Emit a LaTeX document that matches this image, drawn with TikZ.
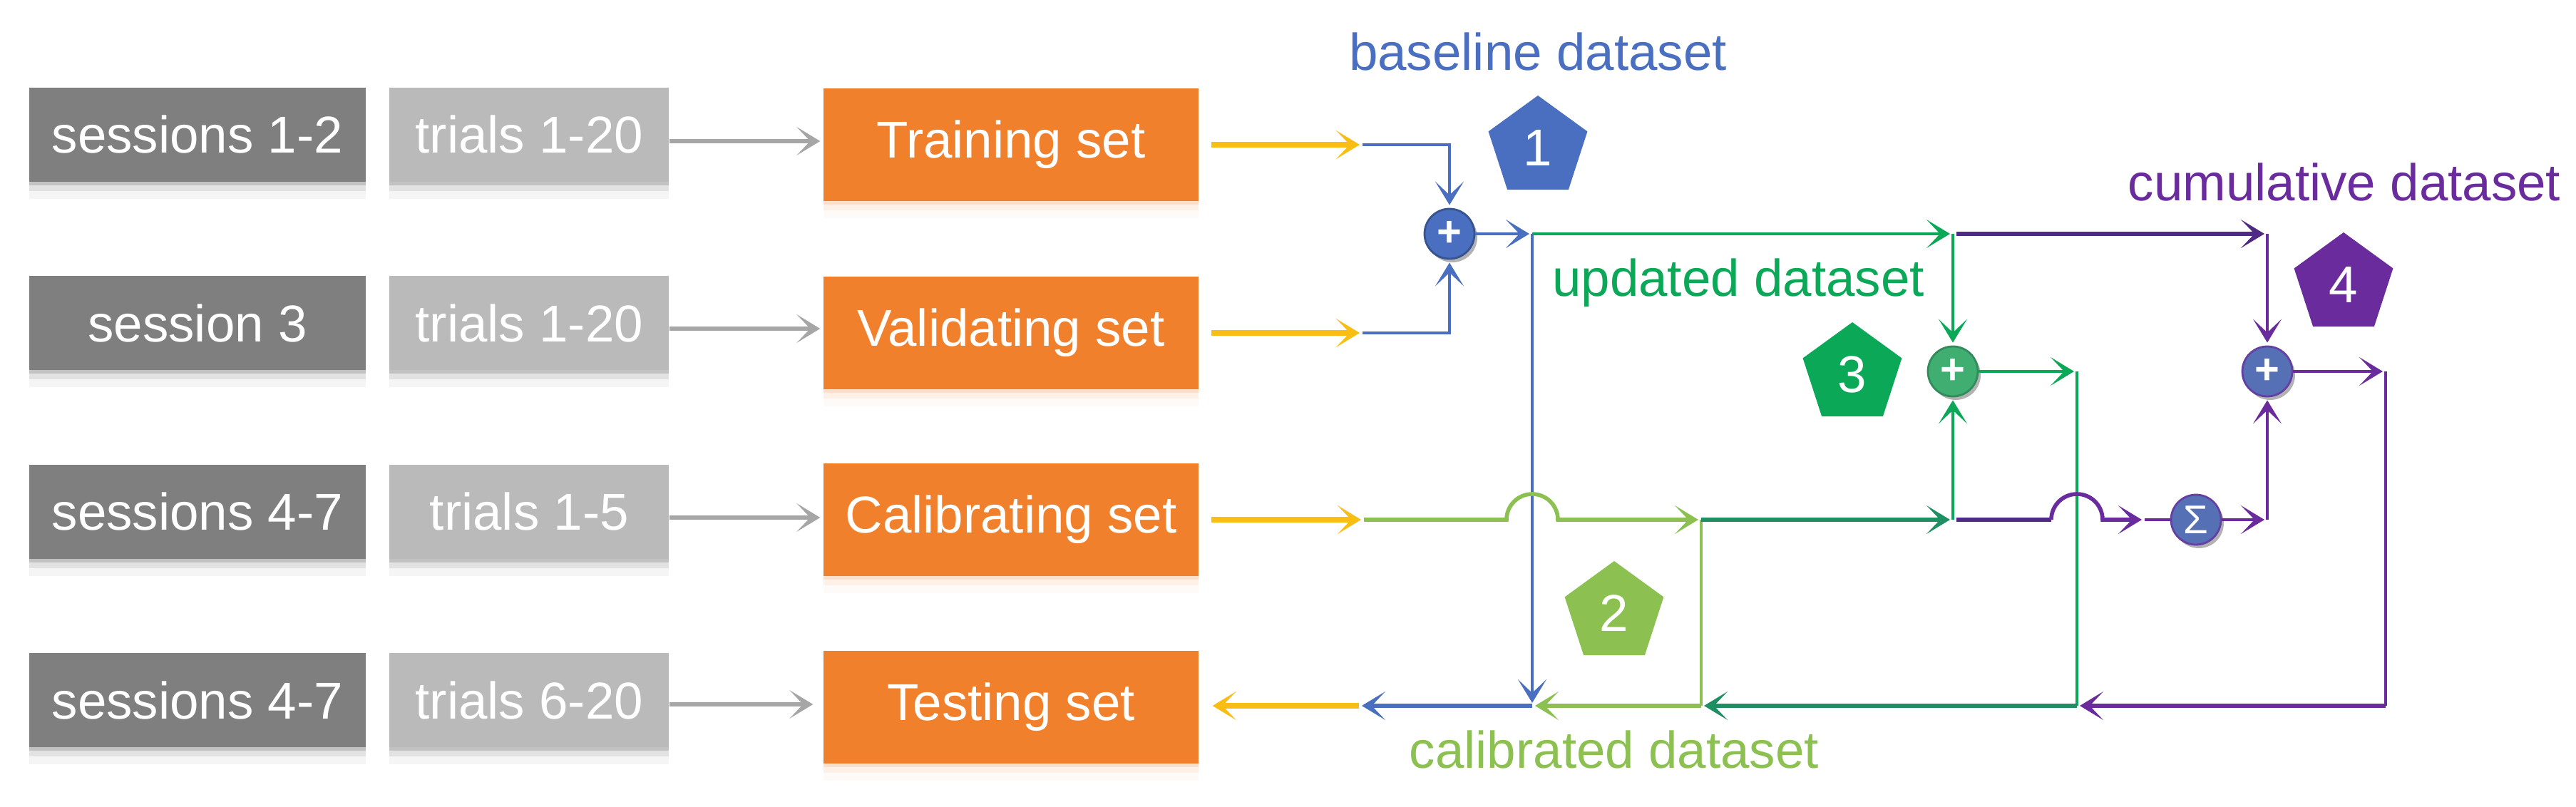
\documentclass[tikz,border=0pt]{standalone}
\usepackage{fontspec}
\setsansfont{Liberation Sans}
\usetikzlibrary{positioning, arrows.meta, calc, shapes.geometric, shadows}
\definecolor{bgSession}{HTML}{7F7F7F}
\definecolor{bgTrial}{HTML}{BABABA}
\definecolor{bgSet}{HTML}{F0802C}
\definecolor{arrowGray}{HTML}{A6A6A6}
\definecolor{arrowYellow}{HTML}{F9BE14}
\definecolor{lineBlue}{HTML}{4A6FC0}
\definecolor{lineLime}{HTML}{8CC152}
\definecolor{lineGreen}{HTML}{0BA858}
\definecolor{lineTeal}{HTML}{1E8F62}
\definecolor{linePurple}{HTML}{6A2C9C}
\definecolor{linePlum}{HTML}{4E2A84}
\definecolor{sumBlue}{HTML}{5570B5}
\definecolor{sumGreen}{HTML}{3FAE70}
\tikzset{
  softshadow/.style={
    drop shadow={shadow xshift=0pt, shadow yshift=-0.05cm, opacity=0.14, fill=#1},
    drop shadow={shadow xshift=0pt, shadow yshift=-0.13cm, opacity=0.08, fill=#1},
    drop shadow={shadow xshift=0pt, shadow yshift=-0.24cm, opacity=0.04, fill=#1},
  },
  basebox/.style={
    minimum height=1.32cm, inner sep=0pt, text=white, align=center,
    font=\sffamily\fontsize{20.7}{24}\selectfont,
  },
  sessionbox/.style={basebox, fill=bgSession, minimum width=4.72cm, softshadow=black},
  trialbox/.style={basebox, fill=bgTrial, minimum width=3.92cm, softshadow=black},
  setbox/.style={basebox, fill=bgSet, minimum width=5.26cm, minimum height=1.58cm, softshadow=bgSet},
  sumnode/.style={
    circle, inner sep=0pt, minimum size=0.70cm, text=white, line width=0.8pt,
    font=\sffamily\fontsize{17}{17}\selectfont\bfseries,
    drop shadow={shadow xshift=0.04cm, shadow yshift=-0.05cm, opacity=0.3, fill=black},
  },
  badge/.style={
    regular polygon, regular polygon sides=5, inner sep=0pt, minimum size=1.46cm,
    text=white, font=\sffamily\fontsize{20.7}{24}\selectfont,
  },
  datalabel/.style={font=\sffamily\fontsize{20.7}{24}\selectfont, inner sep=0pt},
  thinlink/.style={line width=1.1pt},
  thicklink/.style={line width=1.6pt},
  linkarrow/.style={
    -{Stealth[length=0.33cm, width=0.40cm, inset=0.19cm]}, shorten >=0.04cm,
  },
  grayarrow/.style={linkarrow, line width=1.9pt, color=arrowGray},
  yellowarrow/.style={linkarrow, line width=2.3pt, color=arrowYellow},
}

\begin{document}
\begin{tikzpicture}
  \useasboundingbox (0,0) rectangle (36.13,-11.32);

  % === Session and trial boxes (left columns) ===
  \node[sessionbox] (sessA) at (2.77,-1.89) {sessions 1-2};
  \node[trialbox, right=0.32cm of sessA] (trialA) {trials 1-20};
  \node[sessionbox, below=1.31cm of sessA] (sessB) {session 3};
  \node[trialbox, right=0.32cm of sessB] (trialB) {trials 1-20};
  \node[sessionbox, below=1.31cm of sessB] (sessC) {sessions 4-7};
  \node[trialbox, right=0.32cm of sessC] (trialC) {trials 1-5};
  \node[sessionbox, below=1.31cm of sessC] (sessD) {sessions 4-7};
  \node[trialbox, right=0.32cm of sessD] (trialD) {trials 6-20};

  % === Data sets (orange column) ===
  \node[setbox] (setA) at (14.18,-2.03) {Training set};
  \node[setbox] (setB) at (14.18,-4.67) {Validating set};
  \node[setbox] (setC) at (14.18,-7.29) {Calibrating set};
  \node[setbox] (setD) at (14.18,-9.92) {Testing set};

  % === Sum nodes ===
  \node[sumnode, fill=lineBlue, draw=lineBlue!75!black] (sumBase) at (20.33,-3.28) {+};
  \node[sumnode, fill=sumGreen, draw=sumGreen!80!black] (sumUpd) at (27.39,-5.21) {+};
  \node[sumnode, fill=sumBlue, draw=linePurple!70!sumBlue] (sumCum) at (31.80,-5.21) {+};
  \node[sumnode, fill=sumBlue, draw=linePurple!70!sumBlue,
    font=\sffamily\fontsize{16}{16}\selectfont] (sumAll) at (30.80,-7.29) {Σ};

  % === Numbered badges and dataset labels ===
  \node[badge, fill=lineBlue] (badgeA) at (21.57,-2.07) {1};
  \node[badge, fill=lineLime] (badgeB) at (22.64,-8.60) {2};
  \node[badge, fill=lineGreen] (badgeC) at (25.98,-5.25) {3};
  \node[badge, fill=linePurple] (badgeD) at (32.87,-3.99) {4};
  \node[datalabel, text=lineBlue] (lblBase) at (21.57,-0.73) {baseline dataset};
  \node[datalabel, text=lineLime] (lblCal) at (22.64,-10.51) {calibrated dataset};
  \node[datalabel, text=lineGreen] (lblUpd) at (24.38,-3.97) {updated dataset};
  \node[datalabel, text=linePurple] (lblCum) at (32.88,-2.55) {cumulative dataset};

  % === Junctions ===
  \coordinate (jTrain) at (19.11,-2.03);
  \coordinate (jValid) at (19.11,-4.67);
  \coordinate (jCalib) at (19.13,-7.29);
  \coordinate (jTest) at (19.06,-9.90);
  \coordinate (jBaseOut) at (21.49,-3.28);
  \coordinate (jBaseEnd) at (21.49,-9.90);
  \coordinate (jCalOut) at (23.86,-7.29);
  \coordinate (jCalEnd) at (23.86,-9.90);
  \coordinate (jUpdTop) at (27.39,-3.28);
  \coordinate (jUpdIn) at (27.39,-7.29);
  \coordinate (jUpdOut) at (29.13,-5.21);
  \coordinate (jUpdEnd) at (29.13,-9.90);
  \coordinate (jCumTop) at (31.80,-3.28);
  \coordinate (jHop) at (28.77,-7.29);
  \coordinate (jAllIn) at (30.08,-7.29);
  \coordinate (jAllOut) at (31.80,-7.29);
  \coordinate (jCumOut) at (33.46,-5.21);
  \coordinate (jCumEnd) at (33.46,-9.90);
  \coordinate (jTrialA) at ($(setA.west)+(0,0.05)$);
  \coordinate (jTrialB) at ($(setB.west)+(0,0.06)$);
  \coordinate (jTrialC) at ($(setC.west)+(0,0.03)$);
  \coordinate (jTrialD) at ($(setD.west)+(-0.10,0.04)$);

  % === Arrows: trials into sets ===
  \draw[grayarrow] (trialA.east |- jTrialA) -- (jTrialA);
  \draw[grayarrow] (trialB.east |- jTrialB) -- (jTrialB);
  \draw[grayarrow] (trialC.east |- jTrialC) -- (jTrialC);
  \draw[grayarrow] (trialD.east |- jTrialD) -- (jTrialD);

  % === Arrows: sets out to the merge lines ===
  \draw[yellowarrow, shorten <=0.17cm] (setA.east) -- (jTrain);
  \draw[yellowarrow, shorten <=0.17cm] (setB.east) -- (jValid);
  \draw[yellowarrow, shorten <=0.17cm] (setC.east) -- (jCalib);
  \draw[yellowarrow] (jTest) -- ($(setD.east |- jTest)+(0.15,0)$);

  % === Arrows: baseline dataset ===
  \draw[linkarrow, thinlink, lineBlue] (jTrain) -| (sumBase.north);
  \draw[linkarrow, thinlink, lineBlue] (jValid) -| (sumBase.south);
  \draw[linkarrow, thinlink, lineBlue] (sumBase.east) -- (jBaseOut);
  \draw[linkarrow, thinlink, lineBlue] (jBaseOut) -- (jBaseEnd);
  \draw[linkarrow, thicklink, lineBlue] (jBaseEnd) -- (jTest);

  % === Arrows: calibrated dataset, hopping over the baseline line ===
  \draw[linkarrow, thicklink, lineLime] (jCalib)
    -- ($(jBaseOut |- jCalib)+(-0.36,0)$) arc[start angle=180, end angle=0, radius=0.36]
    -- (jCalOut);
  \draw[thinlink, lineLime] (jCalOut) -- (jCalEnd);
  \draw[linkarrow, thicklink, lineLime] (jCalEnd) -- (jBaseEnd);

  % === Arrows: updated dataset ===
  \draw[linkarrow, thinlink, lineGreen] (jBaseOut) -- (jUpdTop);
  \draw[linkarrow, thinlink, lineGreen] (jUpdTop) -- (sumUpd.north);
  \draw[linkarrow, thicklink, lineTeal] (jCalOut) -- (jUpdIn);
  \draw[linkarrow, thinlink, lineGreen] (jUpdIn) -- (sumUpd.south);
  \draw[linkarrow, thinlink, lineGreen] (sumUpd.east) -- (jUpdOut);
  \draw[thinlink, lineGreen] (jUpdOut) -- (jUpdEnd);
  \draw[linkarrow, thicklink, lineTeal] (jUpdEnd) -- (jCalEnd);

  % === Arrows: cumulative dataset ===
  \draw[linkarrow, thicklink, linePlum, shorten <=0.05cm] (jUpdTop) -- (jCumTop);
  \draw[linkarrow, thinlink, linePurple] (jCumTop) -- (sumCum.north);
  \draw[thicklink, linePlum, shorten <=0.05cm] (jUpdIn) -- (jHop);
  \draw[linkarrow, thicklink, linePurple] (jHop)
    arc[start angle=180, end angle=0, radius=0.36] -- (jAllIn);
  \draw[thinlink, linePurple] (jAllIn) -- (sumAll.west);
  \draw[linkarrow, thinlink, linePurple] (sumAll.east) -- (jAllOut);
  \draw[linkarrow, thinlink, linePurple] (jAllOut) -- (sumCum.south);
  \draw[linkarrow, thinlink, linePurple] (sumCum.east) -- (jCumOut);
  \draw[thinlink, linePurple] (jCumOut) -- (jCumEnd);
  \draw[linkarrow, thicklink, linePurple] (jCumEnd) -- (jUpdEnd);

\end{tikzpicture}
\end{document}
